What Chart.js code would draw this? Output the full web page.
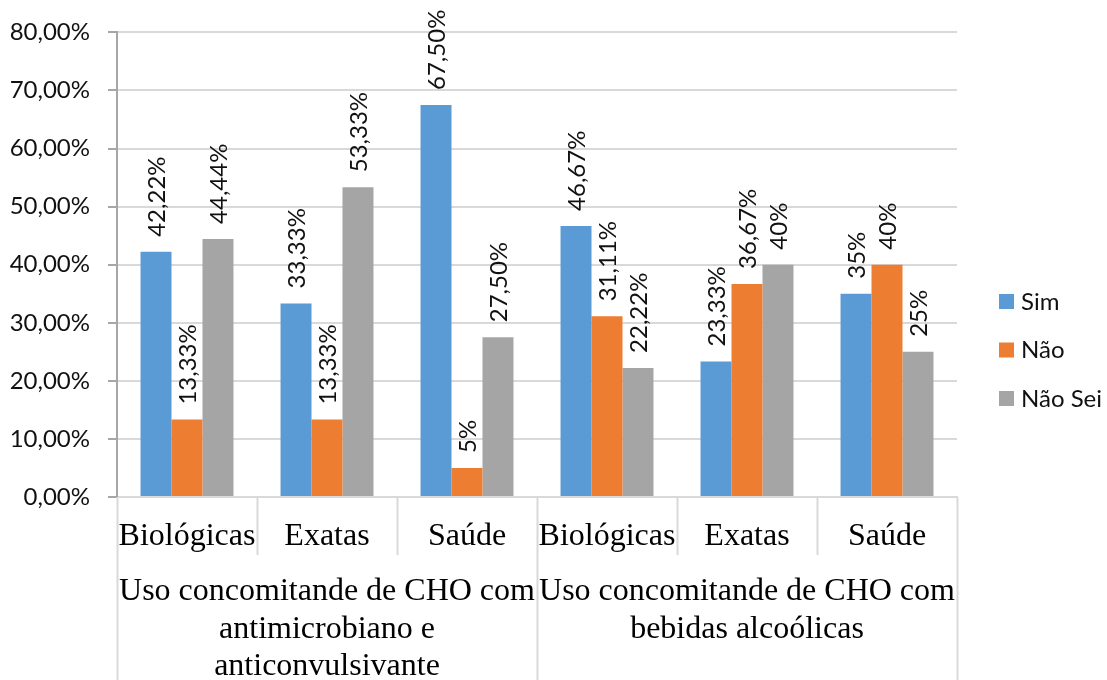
<!DOCTYPE html>
<html>
<head>
<meta charset="utf-8">
<script src="https://cdn.jsdelivr.net/npm/chart.js"></script>
<style>
  body { margin: 0; background: #fff; }
  #wrap { width: 1107px; height: 680px; position: relative; }
</style>
</head>
<body>
<div id="wrap"><canvas id="myChart"></canvas></div>
<script>
// categories (two levels)
var categorias = ['Biológicas', 'Exatas', 'Saúde', 'Biológicas', 'Exatas', 'Saúde'];
var grupos = [
  ['Uso concomitande de CHO com', 'antimicrobiano e', 'anticonvulsivante'],
  ['Uso concomitande de CHO com', 'bebidas alcoólicas']
];
var porGrupo = 3;

// series
var series = ['Sim', 'Não', 'Não Sei'];
var sim    = [42.22, 33.33, 67.5, 46.67, 23.33, 35];
var nao    = [13.33, 13.33, 5, 31.11, 36.67, 40];
var naoSei = [44.44, 53.33, 27.5, 22.22, 40, 25];

// data labels as shown
var rotSim    = ['42,22%', '33,33%', '67,50%', '46,67%', '23,33%', '35%'];
var rotNao    = ['13,33%', '13,33%', '5%', '31,11%', '36,67%', '40%'];
var rotNaoSei = ['44,44%', '53,33%', '27,50%', '22,22%', '40%', '25%'];

// y tick labels
var yTicks = ['0,00%', '10,00%', '20,00%', '30,00%', '40,00%', '50,00%', '60,00%', '70,00%', '80,00%'];

var cores = ['#5B9BD5', '#ED7D31', '#A5A5A5'];
var sansFont = 'Lato, "Open Sans", sans-serif';
var serifFont = '"Liberation Serif", "DejaVu Serif", serif';
var rotulos = [rotSim, rotNao, rotNaoSei];

// data labels above bars, rotated
const rotulosPlugin = {
  id: 'rotulos',
  afterDatasetsDraw(chart) {
    const ctx = chart.ctx;
    ctx.save();
    ctx.font = '24px ' + sansFont;
    ctx.fillStyle = '#111';
    ctx.textAlign = 'left';
    ctx.textBaseline = 'middle';
    chart.data.datasets.forEach((ds, i) => {
      const meta = chart.getDatasetMeta(i);
      meta.data.forEach((bar, j) => {
        ctx.save();
        ctx.translate(bar.x, bar.y - 15);
        ctx.rotate(-Math.PI / 2);
        ctx.fillText(rotulos[i][j], 0, 1);
        ctx.restore();
      });
    });
    ctx.restore();
  }
};

// two-level x axis + legend
const eixoPlugin = {
  id: 'eixo',
  afterDraw(chart) {
    const ctx = chart.ctx;
    const x = chart.scales.x;
    const area = chart.chartArea;
    const passo = (area.right - area.left) / categorias.length;
    ctx.save();
    ctx.strokeStyle = '#D9D9D9';
    ctx.lineWidth = 2;
    // separators
    for (let k = 0; k <= categorias.length; k++) {
      const px = Math.round(area.left + k * passo) + 0.5;
      const longo = (k % porGrupo === 0);
      ctx.beginPath();
      ctx.moveTo(px, area.bottom);
      ctx.lineTo(px, longo ? chart.height : area.bottom + 58);
      ctx.stroke();
    }
    // category labels
    ctx.fillStyle = '#000';
    ctx.font = '32px ' + serifFont;
    ctx.textAlign = 'center';
    ctx.textBaseline = 'middle';
    categorias.forEach((c, i) => {
      ctx.fillText(c, x.getPixelForValue(i), area.bottom + 40);
    });
    // group labels
    grupos.forEach((linhas, g) => {
      const cx = (x.getPixelForValue(g * porGrupo) + x.getPixelForValue(g * porGrupo + porGrupo - 1)) / 2;
      linhas.forEach((l, n) => {
        ctx.fillText(l, cx, area.bottom + 95 + n * 37.5);
      });
    });
    // legend
    ctx.font = '24px ' + sansFont;
    ctx.textAlign = 'left';
    series.forEach((s, i) => {
      const cy = 301 + i * 48.5;
      ctx.fillStyle = cores[i];
      ctx.fillRect(999, cy - 7, 15, 15);
      ctx.fillStyle = '#111';
      ctx.fillText(s, 1021, cy + 1);
    });
    ctx.restore();
  }
};

const ctx = document.getElementById('myChart');
new Chart(ctx, {
  type: 'bar',
  data: {
    labels: categorias,
    datasets: [sim, nao, naoSei].map((d, i) => ({
      label: series[i],
      data: d,
      backgroundColor: cores[i],
      borderWidth: 0,
      categoryPercentage: 0.664,
      barPercentage: 1
    }))
  },
  options: {
    responsive: true,
    maintainAspectRatio: false,
    animation: false,
    layout: { padding: { left: 0, top: 32, right: 150, bottom: 0 } },
    plugins: {
      legend: { display: false },
      tooltip: { enabled: false }
    },
    scales: {
      x: {
        ticks: { display: false },
        grid: { display: false },
        border: { color: '#D9D9D9', width: 2 },
        afterFit(scale) { scale.height = 183; }
      },
      y: {
        min: 0,
        max: 80,
        ticks: {
          stepSize: 10,
          padding: 18,
          color: '#111',
          font: { family: sansFont, size: 24 },
          callback: (v, i) => yTicks[i]
        },
        grid: { color: '#D9D9D9', lineWidth: 2, tickLength: 9, tickColor: '#A6A6A6' },
        border: { color: '#A6A6A6', width: 2 },
        afterFit(scale) { scale.width = 117; }
      }
    }
  },
  plugins: [rotulosPlugin, eixoPlugin]
});
</script>
</body>
</html>
